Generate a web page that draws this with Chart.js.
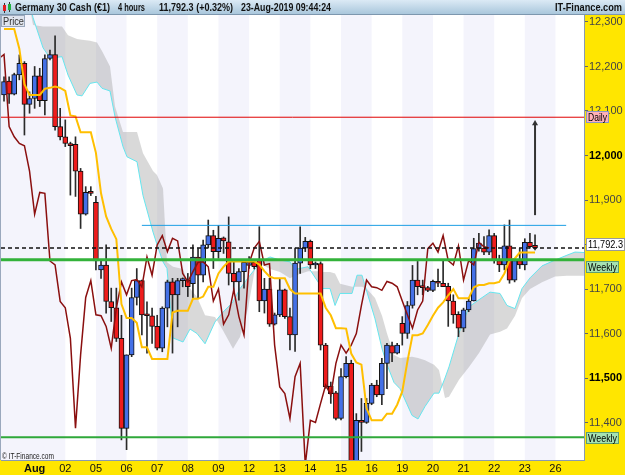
<!DOCTYPE html>
<html>
<head>
<meta charset="utf-8">
<script src="https://cdn.jsdelivr.net/npm/chart.js@4.4.1/dist/chart.umd.min.js"></script>
<style>
  html, body { margin: 0; padding: 0; background: #fff; }
  #wrap { position: relative; width: 625px; height: 475px; }
</style>
</head>
<body>
<div id="wrap"><canvas id="chart" width="625" height="475"></canvas></div>
<script>
// 4-hour candles, Germany 30 Cash, 31 Jul - 23 Aug 2019 (bar 1 = first bar on screen)
const opens = [12136,12167,12138,12181,12207,12115,12128,12179,12123,12218,
  12227,12065,12042,12027,12025,11965,11868,11917,11895,11743,
  11754,11672,11658,11589,11387,11552,11681,11719,11644,11640,
  11616,11567,11657,11716,11687,11719,11720,11712,11772,11731,
  11799,11820,11784,11815,11806,11735,11716,11739,11753,11760,
  11765,11673,11700,11621,11642,11698,11638,11597,11758,11792,
  11807,11754,11757,11574,11482,11467,11409,11503,11533,11300,
  11405,11400,11443,11484,11462,11533,11573,11556,11623,11600,
  11663,11720,11706,11703,11697,11717,11713,11706,11673,11643,
  11612,11653,11673,11791,11792,11783,11820,11764,11754,11797,
  11720,11764,11754,11805,11798];
const highs = [12177,12177,12185,12226,12211,12143,12200,12196,12226,12237,
  12269,12106,12080,12030,12042,11971,11930,11930,11908,11765,
  11799,11702,11702,11641,11552,11702,11746,11720,11671,11657,
  11641,11660,11720,11724,11724,11725,11735,11799,11791,11810,
  11855,11832,11843,11817,11862,11761,11746,11765,11773,11765,
  11840,11724,11724,11646,11724,11700,11657,11792,11840,11816,
  11810,11761,11761,11578,11491,11470,11521,11548,11540,11420,
  11454,11454,11488,11495,11544,11578,11581,11578,11638,11672,
  11753,11762,11720,11706,11720,11745,11765,11713,11687,11649,
  11657,11679,11814,11825,11818,11833,11825,11776,11844,11855,
  11765,11791,11813,11825,11822];
const lows = [12122,12117,12136,12170,12046,12095,12106,12110,12091,12215,
  12057,12035,12020,11911,11908,11836,11866,11910,11743,11724,
  11646,11627,11582,11361,11339,11548,11664,11597,11556,11578,
  11563,11559,11615,11556,11615,11705,11683,11680,11680,11716,
  11792,11746,11769,11780,11709,11690,11675,11702,11746,11745,
  11649,11646,11616,11619,11638,11634,11563,11560,11735,11784,
  11746,11746,11563,11477,11443,11406,11406,11500,11290,11295,
  11335,11398,11440,11458,11440,11476,11537,11554,11574,11589,
  11657,11687,11687,11694,11694,11705,11705,11616,11623,11593,
  11604,11649,11673,11785,11777,11777,11758,11739,11743,11713,
  11716,11746,11743,11792,11788];
const closes = [12166,12138,12182,12207,12115,12128,12179,12123,12218,12227,
  12065,12042,12027,12022,11965,11868,11917,11915,11763,11754,
  11672,11658,11589,11387,11552,11681,11719,11642,11640,11616,
  11567,11657,11716,11687,11719,11721,11705,11772,11731,11799,
  11820,11784,11814,11808,11735,11716,11739,11760,11761,11750,
  11673,11700,11621,11642,11698,11638,11597,11758,11792,11807,
  11754,11757,11574,11480,11465,11409,11503,11533,11305,11405,
  11400,11443,11484,11462,11533,11574,11556,11574,11600,11663,
  11720,11705,11703,11697,11717,11713,11705,11673,11642,11612,
  11653,11673,11791,11803,11783,11820,11764,11754,11797,11720,
  11764,11754,11805,11795,11792.3];

// conversion line (orange), one value per bar
const tenkan = [12284,12284,12284,12240,12160,12136,12136,12136,12150,12152,
  12155,12152,12145,12090,12088,12052,12052,12052,12006,11915,
  11863,11835,11812,11666,11635,11635,11624,11569,11569,11543,
  11543,11543,11543,11647,11651,11651,11651,11678,11678,11683,
  11705,11705,11735,11750,11762,11762,11762,11762,11762,11762,
  11755,11740,11728,11724,11724,11724,11700,11690,11690,11690,
  11690,11690,11690,11658,11641,11612,11612,11611,11555,11535,
  11530,11432,11405,11405,11405,11420,11420,11440,11470,11537,
  11596,11596,11600,11619,11640,11658,11670,11686,11700,11679,
  11679,11679,11704,11709,11709,11713,11713,11716,11735,11765,
  11768,11782,11782,11782,11782];
const LAG_SHIFT = 9; // lagging line: closes drawn 9 bars back

// cloud, read at these bar positions (cloud runs ahead of price)
const cloudX = [6.09,6.68,8.64,10.0,12.36,13.53,15.3,16.28,17.84,19.21,
  20.19,21.76,22.74,24.3,25.09,27.05,28.22,30.18,30.96,32.14,
  32.92,34.1,36.06,37.43,38.8,40.37,42.32,43.89,45.85,47.22,
  48.79,50.16,51.53,53.1,55.05,57.01,57.99,60.54,62.5,63.28,
  64.85,65.83,66.81,69.16,70.14,71.11,72.09,73.66,75.03,76.01,
  77.38,78.56,80.91,82.08,83.45,85.22,86.19,87.37,88.15,90.11,
  92.07,94.03,96.18,98.14,99.51,101.08,102.45,104.02,106.37,108.92,
  111.26,112.83,114.59];
const spanA = [12340,12310,12242,12219,12222,12181,12136,12134,12162,12165,
  12151,12145,12087,12020,11997,11986,11910,11828,11800,11761,
  11746,11590,11581,11610,11600,11577,11626,11648,11671,11701,
  11725,11745,11763,11772,11765,11761,11744,11750,11716,11701,
  11701,11663,11690,11690,11731,11731,11693,11633,11566,11530,
  11490,11476,11416,11408,11436,11466,11466,11500,11525,11601,
  11660,11676,11693,11690,11663,11656,11701,11725,11752,11765,
  11776,11783,11782];
const spanB = [12330,12293,12290,12290,12290,12270,12262,12260,12258,12254,
  12235,12200,12110,12053,12053,12053,12005,11965,11956,11926,
  11760,11750,11745,11701,11682,11641,11637,11607,11566,11592,
  11656,11746,11755,11745,11738,11724,11730,11740,11740,11738,
  11738,11735,11712,11705,11705,11705,11700,11680,11640,11600,
  11552,11545,11548,11545,11540,11530,11518,11455,11458,11496,
  11525,11556,11598,11604,11611,11640,11680,11700,11715,11728,
  11730,11730,11730];

// drawn levels
const dailyLevel = 12086;
const weeklyHigh = 11766;
const weeklyLow = 11367;
const resistance = 11843;
const resistanceFrom = 28.0, resistanceTo = 111.1;
const lastPrice = 11792.3;
const arrowX = 105, arrowFrom = 11866, arrowTo = 12072;

// axes
const dayTicks = [7,13,19,25,31,37,43,49,55,61,67,73,79,85,91,97,103,109];
const dayLabels = ['Aug','02','05','06','07','08','09','12','13','14','15','16','19','20','21','22','23','26'];
const shadedDays = [[0.4,13],[19,25],[31,37],[43,49],[55,61],[67,73],[79,85],[91,97],[103,109]];
const priceTicks = [12300,12200,12100,12000,11900,11800,11700,11600,11500,11400];
const boldTicks = [12000, 11500];

const X_MIN = 0.41, X_MAX = 114.59;
const Y_MIN = 11315.8, Y_MAX = 12315.7;

const FONT = '"Liberation Sans Narrow", "Liberation Sans", Arial, sans-serif';
const UP = '#4470e6', DOWN = '#ee1c1c';
const CLOUD = 'rgba(150,150,150,0.36)';

const fmt = v => String(v).replace(/\B(?=(\d{3})+(?!\d))/g, ',');
const hline = (y, from, to) => [{ x: from, y: y }, { x: to, y: y }];
const isBold = c => !!(c && c.tick && boldTicks.includes(c.tick.value));

const backdrop = {
  id: 'backdrop',
  beforeDraw(chart) {
    const { ctx, chartArea: a } = chart;
    ctx.save();
    ctx.fillStyle = '#fff';
    ctx.fillRect(0, 0, chart.width, chart.height);
    ctx.fillStyle = '#ffe600';
    ctx.fillRect(a.right, a.top, chart.width - a.right, chart.height - a.top);
    ctx.fillRect(0, a.bottom, chart.width, chart.height - a.bottom);
    ctx.restore();
  },
  beforeDatasetsDraw(chart) {
    const { ctx, chartArea: a, scales: { x } } = chart;
    ctx.save();
    ctx.fillStyle = '#f4f4fc';
    shadedDays.forEach(([d0, d1]) => {
      const x0 = Math.max(a.left, x.getPixelForValue(d0));
      const x1 = Math.min(a.right, x.getPixelForValue(d1));
      ctx.fillRect(x0, a.top, x1 - x0, a.bottom - a.top);
    });
    ctx.strokeStyle = '#9aa8bd';
    ctx.lineWidth = 1;
    ctx.beginPath();
    ctx.moveTo(0.5, a.top);
    ctx.lineTo(0.5, a.bottom);
    ctx.stroke();
    ctx.restore();
  },
  afterDraw(chart) {
    const { ctx, chartArea: a, scales: { y } } = chart;
    const tag = (top, w, h, fill, stroke, text) => {
      ctx.fillStyle = fill;
      ctx.fillRect(a.right + 2, top, w, h);
      ctx.strokeStyle = stroke;
      ctx.lineWidth = 1;
      ctx.strokeRect(a.right + 2.5, top + 0.5, w - 1, h - 1);
      ctx.fillStyle = '#000';
      ctx.font = '11px ' + FONT;
      ctx.textBaseline = 'middle';
      ctx.fillText(text, a.right + 4, top + h / 2 + 0.5, w - 4);
    };
    ctx.save();
    tag(Math.round(y.getPixelForValue(dailyLevel)) - 6, 23, 12, '#ffb0b8', '#8a96c6', 'Daily');
    tag(Math.round(y.getPixelForValue(lastPrice)) - 10, 39, 13, '#fff', '#9a9a9a', fmt(lastPrice));
    tag(Math.round(y.getPixelForValue(weeklyHigh)) + 1, 33, 12, '#a6e2b2', '#5f9f6f', 'Weekly');
    tag(Math.round(y.getPixelForValue(weeklyLow)) - 5, 33, 12, '#a6e2b2', '#5f9f6f', 'Weekly');

    // title bar
    const g = ctx.createLinearGradient(0, 0, 0, 15);
    g.addColorStop(0, '#dbeaf5');
    g.addColorStop(1, '#a6c4da');
    ctx.fillStyle = g;
    ctx.fillRect(0, 0, chart.width, 15);
    ctx.fillStyle = '#7d97ae';
    ctx.fillRect(0, 14, chart.width, 1);
    ctx.fillStyle = '#333';
    ctx.fillRect(4, 3, 1, 10);
    ctx.fillRect(9, 2, 1, 10);
    ctx.fillStyle = '#e02020';
    ctx.fillRect(3, 5, 3, 6);
    ctx.fillStyle = '#20b040';
    ctx.fillRect(8, 4, 3, 6);
    ctx.fillStyle = '#111';
    ctx.font = 'bold 11px ' + FONT;
    ctx.textBaseline = 'alphabetic';
    [['Germany 30 Cash (\u20ac1)', 15, 95], ['4 hours', 118, 27], ['11,792.3 (+0.32%)', 159, 74],
     ['23-Aug-2019 09:44:24', 241, 90]].forEach(([t, tx, w]) => ctx.fillText(t, tx, 11, w));
    ctx.textAlign = 'right';
    ctx.fillText('IT-Finance.com', 622, 11, 67);
    ctx.textAlign = 'left';

    // "Price" pane tag and copyright
    ctx.fillStyle = '#dfe4ee';
    ctx.fillRect(1, 15, 24, 12);
    ctx.strokeStyle = '#9aa8bd';
    ctx.strokeRect(1.5, 15.5, 23, 11);
    ctx.fillStyle = '#333';
    ctx.font = '11px ' + FONT;
    ctx.fillText('Price', 3, 25, 21);
    ctx.fillStyle = '#222';
    ctx.font = '9px ' + FONT;
    ctx.fillText('\u00a9 IT-Finance.com', 2, 459, 52);
    ctx.restore();
  }
};

const bars = opens.map((o, i) => i + 1);

new Chart(document.getElementById('chart'), {
  type: 'bar',
  data: {
    datasets: [
      {
        label: 'wicks',
        data: bars.map((b, i) => ({ x: b, y: [lows[i], highs[i]] })),
        backgroundColor: '#2a2a2a',
        barThickness: 1,
        grouped: false,
        order: 6
      },
      {
        label: 'bodies',
        data: bars.map((b, i) => ({ x: b, y: [opens[i], closes[i]] })),
        backgroundColor: bars.map((b, i) => closes[i] >= opens[i] ? UP : DOWN),
        borderColor: '#111',
        borderWidth: 1,
        borderSkipped: false,
        barThickness: 5,
        minBarLength: 2,
        grouped: false,
        order: 5
      },
      {
        type: 'line', label: 'span B',
        data: cloudX.map((cx, i) => ({ x: cx, y: spanB[i] })),
        borderColor: 'rgba(0,0,0,0)', borderWidth: 0, pointRadius: 0,
        fill: { target: '+1', above: CLOUD, below: CLOUD },
        order: 10
      },
      {
        type: 'line', label: 'span A',
        data: cloudX.map((cx, i) => ({ x: cx, y: spanA[i] })),
        borderColor: '#66e6ef', borderWidth: 1, pointRadius: 0,
        order: 9
      },
      {
        type: 'line', label: 'lagging',
        data: closes.slice(LAG_SHIFT - 1).map((c, i) => ({ x: i, y: c })),
        borderColor: '#8a0f0f', borderWidth: 1.5, pointRadius: 0,
        order: 4
      },
      {
        type: 'line', label: 'conversion',
        data: tenkan.map((v, i) => ({ x: i + 1, y: v })),
        borderColor: '#ffbf00', borderWidth: 2, pointRadius: 0,
        order: 3
      },
      {
        type: 'line', label: 'daily',
        data: hline(dailyLevel, X_MIN, X_MAX),
        borderColor: '#e00000', borderWidth: 1, pointRadius: 0, order: 2
      },
      {
        type: 'line', label: 'resistance',
        data: hline(resistance, resistanceFrom, resistanceTo),
        borderColor: '#1c9ee4', borderWidth: 1, pointRadius: 0, order: 2
      },
      {
        type: 'line', label: 'weekly high',
        data: hline(weeklyHigh, X_MIN, X_MAX),
        borderColor: '#33b23a', borderWidth: 3, pointRadius: 0, order: 1
      },
      {
        type: 'line', label: 'weekly low',
        data: hline(weeklyLow, X_MIN, X_MAX),
        borderColor: '#2fa83a', borderWidth: 2, pointRadius: 0, order: 1
      },
      {
        type: 'line', label: 'last',
        data: hline(lastPrice, X_MIN, X_MAX),
        borderColor: '#111', borderWidth: 1.5, borderDash: [4, 3], pointRadius: 0, order: 1
      },
      {
        type: 'line', label: 'target',
        data: [{ x: arrowX, y: arrowFrom }, { x: arrowX, y: arrowTo }],
        borderColor: '#333', borderWidth: 2,
        pointRadius: [0, 3.5], pointStyle: 'triangle',
        pointBackgroundColor: '#333', pointBorderWidth: 0,
        order: 0
      }
    ]
  },
  options: {
    responsive: false,
    animation: false,
    devicePixelRatio: 1,
    layout: { autoPadding: false, padding: { left: 1, top: 15, right: 0, bottom: 0 } },
    plugins: { legend: { display: false }, tooltip: { enabled: false } },
    scales: {
      x: {
        type: 'linear', min: X_MIN, max: X_MAX, offset: false,
        afterBuildTicks: s => { s.ticks = dayTicks.map(v => ({ value: v })); },
        afterFit: s => { s.height = 15; s.paddingLeft = 0; s.paddingRight = 0; },
        grid: { drawOnChartArea: false, drawTicks: false },
        border: { color: '#8a9ab0' },
        ticks: {
          autoSkip: false, maxRotation: 0, padding: 2, color: '#111',
          font: c => ({ family: FONT, size: 11, weight: c && c.index === 0 ? 'bold' : 'normal' }),
          callback: (v, i) => dayLabels[i]
        }
      },
      y: {
        type: 'linear', position: 'right', min: Y_MIN, max: Y_MAX,
        afterBuildTicks: s => { s.ticks = priceTicks.map(v => ({ value: v })); },
        afterFit: s => { s.width = 41; s.paddingTop = 0; s.paddingBottom = 0; },
        grid: { drawOnChartArea: false, tickLength: 4, tickColor: '#666' },
        border: { color: '#8a9ab0' },
        ticks: {
          padding: 1,
          color: c => isBold(c) ? '#000' : '#444',
          font: c => ({ family: FONT, size: 11, weight: isBold(c) ? 'bold' : 'normal' }),
          callback: v => fmt(v)
        }
      }
    }
  },
  plugins: [backdrop]
});
</script>
</body>
</html>
